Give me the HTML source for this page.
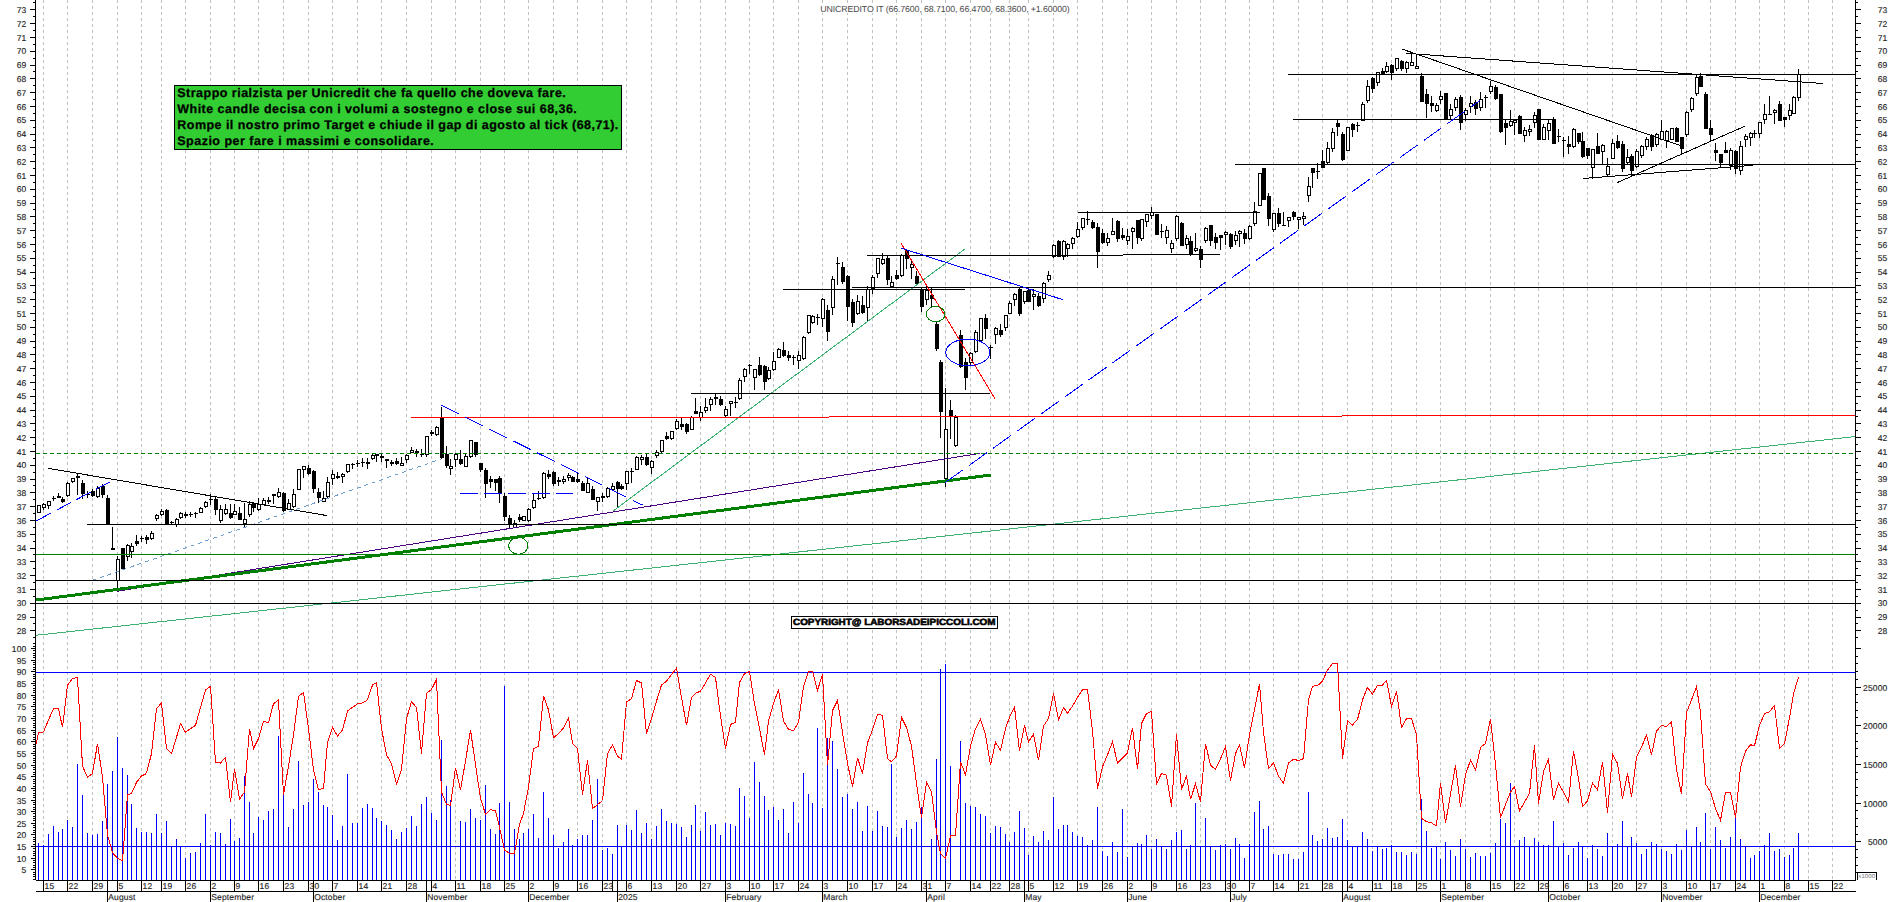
<!DOCTYPE html><html><head><meta charset="utf-8"><title>UNICREDITO IT</title><style>html,body{margin:0;padding:0;background:#fff;overflow:hidden}svg{display:block}</style></head><body><svg width="1890" height="902" viewBox="0 0 1890 902" shape-rendering="crispEdges" text-rendering="geometricPrecision">
<rect width="1890" height="902" fill="#fff"/>
<path d="M43.5 0V880 M67.5 0V880 M92.5 0V880 M117.5 0V880 M141.5 0V880 M161.5 0V880 M185.5 0V880 M210.5 0V880 M234.5 0V880 M258.5 0V880 M283.5 0V880 M308.5 0V880 M332.5 0V880 M357.5 0V880 M381.5 0V880 M406.5 0V880 M431.5 0V880 M455.5 0V880 M480.5 0V880 M504.5 0V880 M528.5 0V880 M553.5 0V880 M577.5 0V880 M602.5 0V880 M626.5 0V880 M651.5 0V880 M676.5 0V880 M700.5 0V880 M725.5 0V880 M749.5 0V880 M773.5 0V880 M798.5 0V880 M822.5 0V880 M847.5 0V880 M872.5 0V880 M896.5 0V880 M921.5 0V880 M945.5 0V880 M970.5 0V880 M990.5 0V880 M1009.5 0V880 M1028.5 0V880 M1053.5 0V880 M1077.5 0V880 M1102.5 0V880 M1127.5 0V880 M1151.5 0V880 M1176.5 0V880 M1200.5 0V880 M1225.5 0V880 M1249.5 0V880 M1273.5 0V880 M1298.5 0V880 M1322.5 0V880 M1347.5 0V880 M1372.5 0V880 M1391.5 0V880 M1416.5 0V880 M1440.5 0V880 M1465.5 0V880 M1490.5 0V880 M1514.5 0V880 M1538.5 0V880 M1563.5 0V880 M1587.5 0V880 M1612.5 0V880 M1636.5 0V880 M1661.5 0V880 M1686.5 0V880 M1710.5 0V880 M1735.5 0V880 M1759.5 0V880 M1784.5 0V880 M1808.5 0V880 M1832.5 0V880" stroke="#c0c0c0" stroke-width="1" stroke-dasharray="3 3" fill="none"/>
<path d="M38.5 843.4V880.5 M43.5 845.1V880.5 M48.5 834.2V880.5 M53.5 825.9V880.5 M58.5 832.2V880.5 M62.5 829.2V880.5 M67.5 820.2V880.5 M72.5 827.2V880.5 M77.5 764.3V880.5 M82.5 795.2V880.5 M87.5 832.9V880.5 M92.5 835.1V880.5 M97.5 834.2V880.5 M102.5 821.4V880.5 M107.5 784.0V880.5 M112.5 771.0V880.5 M117.5 737.3V880.5 M122.5 768.0V880.5 M127.5 775.3V880.5 M131.5 804.2V880.5 M136.5 828.4V880.5 M141.5 832.2V880.5 M146.5 832.2V880.5 M151.5 833.4V880.5 M156.5 814.2V880.5 M161.5 832.9V880.5 M166.5 821.2V880.5 M171.5 845.9V880.5 M176.5 839.1V880.5 M180.5 846.4V880.5 M185.5 858.4V880.5 M190.5 853.4V880.5 M195.5 852.1V880.5 M200.5 843.4V880.5 M205.5 814.2V880.5 M210.5 845.1V880.5 M215.5 832.2V880.5 M220.5 832.9V880.5 M225.5 844.1V880.5 M230.5 819.2V880.5 M234.5 841.4V880.5 M239.5 837.9V880.5 M244.5 776.0V880.5 M249.5 802.2V880.5 M253.5 833.4V880.5 M258.5 817.2V880.5 M263.5 820.2V880.5 M268.5 811.2V880.5 M273.5 809.2V880.5 M278.5 736.1V880.5 M283.5 794.7V880.5 M288.5 827.2V880.5 M293.5 809.2V880.5 M298.5 761.0V880.5 M303.5 805.2V880.5 M308.5 802.2V880.5 M313.5 779.3V880.5 M318.5 791.5V880.5 M323.5 805.2V880.5 M327.5 807.2V880.5 M332.5 815.2V880.5 M337.5 840.1V880.5 M342.5 826.2V880.5 M347.5 774.3V880.5 M352.5 823.4V880.5 M357.5 823.2V880.5 M362.5 808.2V880.5 M367.5 804.2V880.5 M372.5 808.2V880.5 M376.5 818.2V880.5 M381.5 821.2V880.5 M386.5 824.7V880.5 M391.5 830.2V880.5 M396.5 839.1V880.5 M401.5 832.2V880.5 M406.5 828.2V880.5 M411.5 816.2V880.5 M416.5 826.2V880.5 M421.5 804.2V880.5 M426.5 797.2V880.5 M431.5 812.9V880.5 M436.5 820.2V880.5 M441.5 740.3V880.5 M446.5 786.2V880.5 M450.5 800.2V880.5 M460.5 821.2V880.5 M465.5 822.2V880.5 M470.5 809.2V880.5 M475.5 818.2V880.5 M480.5 820.2V880.5 M485.5 785.2V880.5 M490.5 829.2V880.5 M495.5 834.2V880.5 M499.5 803.2V880.5 M504.5 685.7V880.5 M509.5 802.2V880.5 M514.5 829.2V880.5 M519.5 839.1V880.5 M523.5 832.9V880.5 M528.5 829.2V880.5 M533.5 814.2V880.5 M538.5 838.1V880.5 M543.5 792.2V880.5 M548.5 818.2V880.5 M553.5 835.1V880.5 M558.5 848.4V880.5 M563.5 842.1V880.5 M568.5 829.2V880.5 M572.5 845.1V880.5 M577.5 839.1V880.5 M582.5 835.4V880.5 M587.5 835.4V880.5 M592.5 820.2V880.5 M597.5 779.3V880.5 M602.5 850.1V880.5 M607.5 848.4V880.5 M612.5 854.1V880.5 M617.5 825.2V880.5 M621.5 846.4V880.5 M626.5 824.7V880.5 M631.5 830.2V880.5 M636.5 810.2V880.5 M641.5 833.2V880.5 M646.5 823.2V880.5 M651.5 839.1V880.5 M656.5 826.2V880.5 M661.5 809.2V880.5 M666.5 821.2V880.5 M671.5 823.2V880.5 M676.5 824.2V880.5 M681.5 827.2V880.5 M686.5 837.1V880.5 M691.5 825.2V880.5 M695.5 805.2V880.5 M700.5 831.2V880.5 M705.5 812.2V880.5 M710.5 825.2V880.5 M715.5 824.2V880.5 M720.5 835.1V880.5 M725.5 823.2V880.5 M730.5 824.2V880.5 M735.5 826.2V880.5 M739.5 788.2V880.5 M744.5 796.2V880.5 M749.5 818.2V880.5 M754.5 762.3V880.5 M759.5 782.3V880.5 M764.5 796.2V880.5 M768.5 810.2V880.5 M773.5 807.2V880.5 M778.5 820.2V880.5 M783.5 809.2V880.5 M788.5 833.2V880.5 M793.5 802.2V880.5 M798.5 823.2V880.5 M803.5 773.3V880.5 M808.5 794.2V880.5 M812.5 803.2V880.5 M817.5 728.1V880.5 M822.5 808.2V880.5 M827.5 737.8V880.5 M832.5 741.3V880.5 M837.5 769.3V880.5 M842.5 797.2V880.5 M847.5 794.2V880.5 M852.5 809.2V880.5 M857.5 802.2V880.5 M862.5 831.2V880.5 M867.5 806.2V880.5 M872.5 831.2V880.5 M877.5 811.2V880.5 M882.5 826.2V880.5 M887.5 827.2V880.5 M891.5 764.3V880.5 M896.5 837.1V880.5 M901.5 828.2V880.5 M906.5 820.2V880.5 M911.5 829.2V880.5 M916.5 822.2V880.5 M921.5 807.2V880.5 M931.5 839.1V880.5 M936.5 759.3V880.5 M940.5 669.2V880.5 M945.5 663.7V880.5 M950.5 766.3V880.5 M960.5 741.3V880.5 M965.5 803.2V880.5 M970.5 806.2V880.5 M975.5 807.2V880.5 M980.5 814.2V880.5 M985.5 816.2V880.5 M990.5 833.2V880.5 M995.5 826.2V880.5 M1000.5 827.2V880.5 M1005.5 834.2V880.5 M1009.5 842.1V880.5 M1014.5 832.2V880.5 M1019.5 811.2V880.5 M1024.5 828.2V880.5 M1028.5 855.1V880.5 M1033.5 836.1V880.5 M1038.5 842.1V880.5 M1043.5 831.2V880.5 M1048.5 840.1V880.5 M1053.5 797.2V880.5 M1058.5 829.2V880.5 M1063.5 825.2V880.5 M1067.5 825.2V880.5 M1072.5 832.2V880.5 M1077.5 836.1V880.5 M1082.5 837.1V880.5 M1087.5 845.1V880.5 M1092.5 840.1V880.5 M1097.5 807.2V880.5 M1102.5 851.1V880.5 M1107.5 856.1V880.5 M1112.5 842.1V880.5 M1117.5 852.1V880.5 M1122.5 809.2V880.5 M1127.5 857.1V880.5 M1132.5 846.4V880.5 M1137.5 843.1V880.5 M1141.5 844.1V880.5 M1146.5 835.1V880.5 M1151.5 849.1V880.5 M1156.5 839.1V880.5 M1161.5 846.4V880.5 M1166.5 849.1V880.5 M1171.5 840.1V880.5 M1176.5 832.2V880.5 M1181.5 830.2V880.5 M1186.5 849.1V880.5 M1190.5 845.1V880.5 M1195.5 803.2V880.5 M1200.5 846.4V880.5 M1205.5 818.2V880.5 M1210.5 846.4V880.5 M1215.5 850.1V880.5 M1220.5 845.1V880.5 M1225.5 844.1V880.5 M1230.5 849.1V880.5 M1235.5 838.1V880.5 M1239.5 844.1V880.5 M1244.5 858.1V880.5 M1249.5 844.1V880.5 M1254.5 812.2V880.5 M1259.5 801.2V880.5 M1263.5 829.2V880.5 M1268.5 826.2V880.5 M1273.5 854.1V880.5 M1278.5 855.1V880.5 M1283.5 854.1V880.5 M1288.5 854.1V880.5 M1293.5 859.1V880.5 M1298.5 859.1V880.5 M1303.5 852.1V880.5 M1308.5 792.2V880.5 M1312.5 835.1V880.5 M1317.5 841.1V880.5 M1322.5 839.1V880.5 M1327.5 828.2V880.5 M1332.5 838.1V880.5 M1337.5 837.1V880.5 M1342.5 819.2V880.5 M1347.5 840.1V880.5 M1352.5 846.4V880.5 M1357.5 846.4V880.5 M1362.5 832.2V880.5 M1367.5 839.1V880.5 M1372.5 851.1V880.5 M1377.5 846.4V880.5 M1382.5 849.1V880.5 M1386.5 848.1V880.5 M1391.5 845.1V880.5 M1396.5 852.1V880.5 M1401.5 852.1V880.5 M1406.5 855.1V880.5 M1411.5 852.1V880.5 M1416.5 854.1V880.5 M1421.5 799.2V880.5 M1426.5 831.2V880.5 M1431.5 848.1V880.5 M1436.5 847.1V880.5 M1440.5 859.1V880.5 M1445.5 842.1V880.5 M1450.5 850.1V880.5 M1455.5 856.1V880.5 M1460.5 839.1V880.5 M1465.5 849.1V880.5 M1470.5 857.1V880.5 M1475.5 853.1V880.5 M1480.5 856.1V880.5 M1485.5 856.1V880.5 M1490.5 853.1V880.5 M1495.5 843.1V880.5 M1500.5 819.2V880.5 M1505.5 823.2V880.5 M1510.5 783.0V880.5 M1514.5 846.4V880.5 M1519.5 840.1V880.5 M1524.5 837.1V880.5 M1529.5 846.4V880.5 M1534.5 838.1V880.5 M1538.5 842.1V880.5 M1543.5 845.1V880.5 M1548.5 845.1V880.5 M1553.5 821.2V880.5 M1558.5 846.4V880.5 M1563.5 843.1V880.5 M1568.5 855.1V880.5 M1573.5 848.1V880.5 M1578.5 842.1V880.5 M1582.5 846.4V880.5 M1587.5 858.1V880.5 M1592.5 845.1V880.5 M1597.5 849.1V880.5 M1602.5 856.1V880.5 M1607.5 833.2V880.5 M1612.5 846.4V880.5 M1617.5 844.1V880.5 M1622.5 821.2V880.5 M1627.5 846.4V880.5 M1631.5 837.1V880.5 M1636.5 843.1V880.5 M1641.5 854.1V880.5 M1646.5 849.1V880.5 M1651.5 842.1V880.5 M1656.5 844.1V880.5 M1661.5 849.1V880.5 M1666.5 851.1V880.5 M1671.5 854.1V880.5 M1676.5 844.1V880.5 M1681.5 850.1V880.5 M1686.5 830.2V880.5 M1691.5 846.4V880.5 M1696.5 827.2V880.5 M1700.5 842.1V880.5 M1705.5 813.2V880.5 M1710.5 849.1V880.5 M1715.5 827.2V880.5 M1720.5 840.1V880.5 M1725.5 848.1V880.5 M1730.5 837.1V880.5 M1735.5 817.2V880.5 M1740.5 839.1V880.5 M1745.5 846.4V880.5 M1750.5 858.1V880.5 M1754.5 855.1V880.5 M1759.5 851.1V880.5 M1764.5 845.1V880.5 M1769.5 833.2V880.5 M1774.5 851.1V880.5 M1779.5 849.1V880.5 M1784.5 857.1V880.5 M1789.5 855.1V880.5 M1793.5 847.9V880.5 M1798.5 833.4V880.5" stroke="#0000ff" stroke-width="1" fill="none"/>
<path d="M35.5 672.5H1855.5M35.5 846.5H1855.5" stroke="#0000ff" stroke-width="1" fill="none"/>
<polyline points="36.2,743.6 38.5,732.9 43.5,731.9 48.5,719.9 53.5,708.7 58.5,708.7 62.5,727.4 67.5,685.0 72.5,678.7 77.5,677.5 82.5,766.0 87.5,777.3 92.5,773.5 97.5,743.6 102.5,777.3 107.5,834.7 112.5,852.6 117.5,858.4 122.5,860.8 127.5,794.7 131.5,793.5 136.5,782.3 141.5,776.0 146.5,773.5 151.5,753.6 156.5,708.7 161.5,702.9 166.5,748.6 171.5,753.6 176.5,737.3 180.5,723.6 185.5,732.4 190.5,728.6 195.5,725.4 200.5,707.4 205.5,689.9 210.5,686.2 215.5,762.3 220.5,763.0 225.5,757.3 230.5,802.2 234.5,769.0 239.5,799.2 244.5,792.2 249.5,728.6 253.5,748.6 258.5,738.6 263.5,721.1 268.5,722.9 273.5,703.7 278.5,699.9 283.5,794.7 288.5,766.0 293.5,734.9 298.5,696.2 303.5,692.4 308.5,728.6 313.5,769.8 318.5,789.7 323.5,788.5 327.5,742.3 332.5,727.4 337.5,736.1 342.5,729.9 347.5,711.1 352.5,707.4 357.5,703.7 362.5,702.9 367.5,699.9 372.5,685.0 376.5,682.5 381.5,728.6 386.5,754.8 391.5,763.5 396.5,784.0 401.5,769.8 406.5,718.6 411.5,701.7 416.5,707.4 421.5,753.6 426.5,693.2 431.5,689.4 436.5,679.5 441.5,792.2 446.5,804.2 450.5,805.5 455.5,767.8 460.5,789.7 465.5,761.0 470.5,729.9 475.5,764.8 480.5,798.5 485.5,814.2 490.5,809.7 495.5,810.9 499.5,827.2 504.5,850.1 509.5,853.4 514.5,853.4 519.5,824.7 523.5,813.4 528.5,787.2 533.5,748.6 538.5,746.1 543.5,695.7 548.5,709.9 553.5,737.8 558.5,733.6 563.5,727.9 568.5,718.1 572.5,743.6 577.5,748.6 582.5,794.7 587.5,760.3 592.5,808.5 597.5,804.7 602.5,800.5 607.5,753.6 612.5,744.8 617.5,756.1 621.5,759.3 626.5,701.9 631.5,698.7 636.5,680.5 641.5,683.0 646.5,733.6 651.5,718.6 656.5,701.2 661.5,685.0 666.5,681.2 671.5,674.5 676.5,668.2 681.5,697.4 686.5,725.4 691.5,697.4 695.5,693.2 700.5,691.2 705.5,683.0 710.5,674.2 715.5,677.5 720.5,716.1 725.5,748.6 730.5,724.4 735.5,722.4 739.5,682.5 744.5,673.7 749.5,671.2 754.5,703.7 759.5,728.6 764.5,754.8 768.5,721.1 773.5,703.7 778.5,689.4 783.5,721.1 788.5,729.4 793.5,730.6 798.5,722.4 803.5,686.2 808.5,671.7 812.5,671.2 817.5,690.4 822.5,674.5 827.5,765.3 832.5,710.6 837.5,700.4 842.5,732.4 847.5,763.5 852.5,786.5 857.5,757.8 862.5,773.5 867.5,742.8 872.5,729.9 877.5,714.4 882.5,715.4 887.5,758.6 891.5,761.8 896.5,756.1 901.5,717.4 906.5,727.4 911.5,746.1 916.5,783.5 921.5,817.7 926.5,782.3 931.5,792.2 936.5,832.2 940.5,853.4 945.5,858.4 950.5,835.9 955.5,835.9 960.5,761.8 965.5,774.8 970.5,746.1 975.5,728.6 980.5,719.4 985.5,734.9 990.5,765.3 995.5,742.3 1000.5,750.3 1005.5,728.6 1009.5,717.4 1014.5,706.9 1019.5,751.1 1024.5,725.4 1028.5,741.8 1033.5,734.4 1038.5,760.3 1043.5,726.1 1048.5,718.6 1053.5,693.2 1058.5,719.9 1063.5,707.4 1067.5,713.1 1072.5,706.2 1077.5,697.4 1082.5,689.9 1087.5,689.4 1092.5,731.1 1097.5,788.5 1102.5,766.8 1107.5,754.8 1112.5,741.8 1117.5,763.0 1122.5,758.1 1127.5,752.8 1132.5,727.9 1137.5,769.3 1141.5,723.6 1146.5,713.6 1151.5,711.1 1156.5,784.0 1161.5,773.5 1166.5,775.3 1171.5,806.5 1176.5,734.4 1181.5,789.7 1186.5,776.0 1190.5,799.2 1195.5,784.0 1200.5,801.7 1205.5,743.6 1210.5,765.3 1215.5,769.3 1220.5,758.6 1225.5,746.8 1230.5,780.5 1235.5,753.6 1239.5,744.8 1244.5,767.8 1249.5,734.4 1254.5,709.9 1259.5,683.7 1263.5,732.4 1268.5,768.5 1273.5,763.0 1278.5,776.0 1283.5,783.5 1288.5,763.0 1293.5,759.3 1298.5,760.5 1303.5,758.6 1308.5,699.9 1312.5,686.2 1317.5,685.7 1322.5,681.2 1327.5,670.0 1332.5,663.7 1337.5,663.7 1342.5,758.6 1347.5,721.1 1352.5,724.9 1357.5,719.4 1362.5,699.9 1367.5,687.4 1372.5,694.2 1377.5,685.0 1382.5,685.0 1386.5,680.5 1391.5,706.2 1396.5,691.2 1401.5,727.4 1406.5,718.6 1411.5,718.6 1416.5,734.9 1421.5,818.4 1426.5,821.7 1431.5,822.9 1436.5,825.9 1440.5,782.8 1445.5,823.4 1450.5,794.2 1455.5,765.3 1460.5,806.7 1465.5,774.8 1470.5,760.3 1475.5,770.3 1480.5,747.3 1485.5,743.6 1490.5,719.1 1495.5,764.8 1500.5,817.7 1505.5,804.7 1510.5,792.2 1514.5,786.5 1519.5,810.9 1524.5,802.2 1529.5,793.5 1534.5,745.3 1538.5,803.5 1543.5,771.5 1548.5,759.3 1553.5,799.7 1558.5,783.0 1563.5,792.2 1568.5,802.2 1573.5,751.1 1578.5,778.5 1582.5,806.7 1587.5,801.0 1592.5,783.0 1597.5,789.7 1602.5,761.8 1607.5,812.7 1612.5,754.3 1617.5,763.5 1622.5,799.0 1627.5,773.5 1631.5,797.2 1636.5,757.3 1641.5,747.3 1646.5,734.9 1651.5,754.8 1656.5,731.1 1661.5,725.4 1666.5,726.6 1671.5,721.9 1676.5,769.8 1681.5,794.0 1686.5,712.4 1691.5,699.9 1696.5,686.9 1700.5,712.4 1705.5,784.0 1710.5,791.7 1715.5,808.5 1720.5,820.4 1725.5,792.2 1730.5,792.2 1735.5,817.7 1740.5,767.3 1745.5,751.1 1750.5,744.8 1754.5,745.6 1759.5,725.4 1764.5,713.6 1769.5,711.9 1774.5,705.4 1779.5,748.6 1784.5,743.6 1789.5,717.9 1793.5,693.7 1798.5,677.2" stroke="#ff0000" stroke-width="1" fill="none"/>
<path d="M43.5 503V504 M43.5 507V510 M48.5 505V509 M53.5 496V501 M58.5 493V498 M62.5 497V503 M67.5 482V483 M67.5 495V497 M72.5 481V483 M77.5 474V495 M82.5 480V499 M87.5 491V498 M92.5 489V497 M97.5 486V488 M97.5 496V498 M102.5 484V498 M107.5 495V524 M112.5 527V550 M117.5 556V559 M117.5 580V592 M122.5 548V569 M127.5 544V545 M127.5 556V561 M131.5 543V546 M131.5 551V558 M136.5 535V546 M141.5 536V542 M146.5 535V544 M151.5 531V533 M151.5 538V540 M156.5 514V515 M156.5 518V521 M161.5 509V511 M161.5 514V516 M166.5 509V525 M171.5 521V525 M176.5 518V519 M176.5 524V527 M180.5 512V513 M180.5 517V519 M185.5 512V518 M190.5 512V517 M195.5 512V518 M200.5 507V508 M205.5 501V502 M205.5 506V508 M210.5 494V505 M215.5 497V515 M220.5 505V509 M220.5 520V523 M225.5 504V509 M225.5 513V515 M230.5 504V519 M234.5 504V511 M239.5 507V520 M244.5 503V519 M244.5 523V528 M249.5 501V504 M249.5 514V517 M253.5 502V512 M258.5 498V504 M258.5 509V511 M263.5 498V500 M268.5 497V504 M273.5 494V504 M278.5 488V492 M278.5 496V498 M283.5 492V512 M288.5 499V503 M293.5 489V494 M293.5 506V508 M303.5 469V478 M308.5 465V475 M313.5 470V493 M318.5 488V503 M323.5 491V498 M327.5 477V482 M327.5 496V498 M332.5 470V474 M332.5 478V485 M337.5 472V479 M342.5 473V474 M342.5 476V483 M347.5 471V473 M352.5 463V469 M357.5 460V467 M362.5 458V467 M367.5 458V469 M372.5 454V455 M372.5 458V460 M376.5 454V462 M381.5 454V462 M386.5 459V468 M391.5 460V466 M396.5 458V465 M401.5 457V463 M406.5 454V455 M406.5 459V463 M411.5 447V450 M416.5 449V457 M421.5 449V457 M426.5 454V457 M431.5 430V436 M436.5 426V427 M436.5 434V436 M441.5 407V459 M446.5 446V468 M450.5 459V466 M450.5 468V475 M455.5 453V454 M455.5 459V467 M460.5 450V465 M465.5 453V456 M470.5 456V458 M475.5 442V457 M480.5 463V472 M485.5 468V498 M490.5 476V488 M495.5 479V491 M499.5 476V503 M504.5 493V521 M509.5 515V528 M514.5 520V523 M519.5 514V522 M528.5 508V509 M528.5 520V522 M533.5 494V500 M533.5 507V509 M538.5 491V500 M543.5 472V473 M543.5 497V499 M548.5 470V479 M553.5 471V486 M558.5 477V486 M563.5 476V479 M563.5 481V484 M568.5 473V475 M568.5 477V481 M572.5 476V482 M577.5 473V483 M582.5 481V491 M587.5 478V483 M592.5 486V500 M597.5 501V511 M602.5 493V502 M607.5 487V488 M607.5 496V498 M612.5 483V486 M612.5 489V491 M617.5 481V507 M621.5 484V490 M626.5 483V490 M631.5 468V483 M636.5 456V457 M641.5 455V457 M641.5 459V465 M646.5 454V466 M651.5 460V461 M651.5 467V474 M656.5 450V452 M656.5 455V458 M661.5 451V454 M666.5 432V440 M671.5 438V440 M676.5 419V421 M676.5 428V430 M681.5 418V430 M686.5 423V434 M691.5 416V417 M695.5 398V414 M700.5 406V412 M700.5 417V421 M705.5 398V407 M705.5 410V413 M710.5 397V399 M710.5 404V411 M715.5 394V405 M720.5 396V406 M725.5 406V409 M725.5 415V418 M730.5 403V416 M735.5 397V408 M739.5 378V380 M739.5 398V400 M744.5 368V369 M744.5 376V382 M749.5 364V374 M754.5 377V390 M759.5 357V376 M764.5 365V390 M768.5 367V370 M768.5 378V380 M773.5 352V361 M773.5 369V371 M778.5 348V349 M783.5 342V357 M788.5 351V361 M793.5 355V365 M798.5 351V355 M798.5 360V369 M803.5 336V337 M803.5 358V360 M808.5 332V334 M812.5 315V316 M812.5 322V324 M817.5 314V325 M822.5 298V299 M822.5 318V327 M827.5 305V341 M832.5 276V279 M832.5 307V315 M837.5 257V285 M842.5 262V284 M847.5 275V321 M852.5 299V327 M857.5 295V301 M857.5 313V315 M862.5 296V314 M867.5 286V289 M867.5 307V321 M872.5 275V277 M872.5 288V294 M877.5 273V278 M882.5 253V259 M882.5 263V265 M887.5 256V285 M891.5 276V282 M896.5 270V280 M901.5 254V255 M901.5 275V277 M906.5 250V269 M911.5 259V264 M911.5 267V279 M916.5 271V286 M921.5 287V312 M926.5 286V290 M926.5 299V305 M931.5 288V308 M936.5 322V351 M940.5 360V438 M945.5 388V429 M945.5 478V487 M950.5 400V439 M955.5 415V417 M955.5 445V447 M960.5 330V368 M965.5 358V390 M970.5 352V353 M970.5 362V365 M975.5 330V332 M975.5 351V353 M980.5 340V342 M985.5 314V339 M990.5 345V359 M995.5 327V328 M995.5 334V344 M1000.5 324V337 M1005.5 327V331 M1009.5 301V303 M1014.5 293V294 M1014.5 299V306 M1019.5 287V316 M1024.5 301V304 M1028.5 289V302 M1033.5 289V294 M1033.5 296V310 M1038.5 293V307 M1043.5 282V283 M1043.5 298V303 M1048.5 271V275 M1048.5 279V282 M1053.5 244V245 M1053.5 256V258 M1058.5 240V257 M1063.5 240V241 M1063.5 256V260 M1067.5 243V244 M1067.5 248V257 M1072.5 237V238 M1072.5 243V249 M1077.5 222V229 M1077.5 236V238 M1082.5 227V230 M1087.5 211V225 M1092.5 220V229 M1097.5 223V268 M1102.5 229V244 M1107.5 233V238 M1107.5 242V246 M1112.5 218V231 M1117.5 220V242 M1122.5 228V240 M1127.5 229V236 M1127.5 240V245 M1132.5 227V228 M1132.5 231V249 M1137.5 220V244 M1141.5 238V241 M1146.5 221V227 M1151.5 207V212 M1151.5 215V219 M1156.5 214V235 M1161.5 224V238 M1166.5 226V230 M1166.5 237V244 M1171.5 240V243 M1171.5 248V253 M1176.5 215V216 M1176.5 238V241 M1181.5 222V246 M1186.5 235V238 M1186.5 244V249 M1190.5 236V256 M1195.5 233V248 M1195.5 250V252 M1200.5 246V268 M1205.5 227V228 M1205.5 240V243 M1210.5 225V246 M1215.5 233V249 M1220.5 235V250 M1225.5 231V232 M1225.5 234V245 M1230.5 233V249 M1235.5 231V235 M1235.5 240V245 M1239.5 230V231 M1239.5 233V247 M1244.5 229V244 M1249.5 225V226 M1249.5 238V240 M1254.5 202V211 M1254.5 223V226 M1263.5 168V200 M1268.5 193V226 M1273.5 229V232 M1278.5 208V227 M1283.5 212V226 M1288.5 220V227 M1293.5 211V220 M1298.5 219V229 M1303.5 212V216 M1303.5 218V225 M1308.5 177V186 M1308.5 195V202 M1312.5 168V188 M1317.5 163V179 M1322.5 150V168 M1327.5 142V148 M1327.5 162V164 M1332.5 128V132 M1332.5 148V152 M1337.5 120V136 M1342.5 132V161 M1352.5 123V137 M1357.5 122V132 M1362.5 102V104 M1367.5 80V86 M1367.5 100V103 M1372.5 77V93 M1377.5 82V86 M1382.5 68V75 M1386.5 62V66 M1386.5 71V73 M1391.5 64V80 M1396.5 68V71 M1401.5 60V71 M1406.5 61V62 M1406.5 68V73 M1411.5 53V62 M1416.5 54V66 M1421.5 73V102 M1426.5 89V118 M1431.5 96V112 M1436.5 103V105 M1436.5 110V112 M1440.5 91V96 M1440.5 99V104 M1445.5 93V120 M1450.5 104V109 M1450.5 115V119 M1455.5 97V99 M1455.5 107V111 M1460.5 95V130 M1465.5 108V110 M1465.5 114V121 M1470.5 96V103 M1470.5 106V113 M1475.5 100V115 M1480.5 92V99 M1480.5 107V111 M1485.5 95V108 M1490.5 81V86 M1490.5 91V94 M1495.5 85V100 M1500.5 94V133 M1505.5 120V145 M1510.5 110V121 M1510.5 125V127 M1514.5 122V135 M1519.5 115V134 M1524.5 127V130 M1524.5 135V142 M1529.5 125V129 M1529.5 131V136 M1534.5 112V115 M1534.5 122V128 M1538.5 109V140 M1543.5 124V127 M1548.5 120V123 M1548.5 130V140 M1553.5 117V144 M1558.5 129V142 M1563.5 137V157 M1568.5 136V154 M1573.5 128V129 M1573.5 146V148 M1578.5 133V144 M1582.5 132V158 M1587.5 148V159 M1592.5 167V179 M1597.5 133V154 M1602.5 144V145 M1602.5 151V165 M1607.5 158V166 M1607.5 174V177 M1612.5 139V143 M1617.5 135V149 M1622.5 141V172 M1627.5 149V157 M1627.5 162V164 M1631.5 154V176 M1636.5 149V151 M1636.5 166V168 M1641.5 145V146 M1641.5 155V158 M1646.5 137V139 M1646.5 146V150 M1651.5 134V151 M1656.5 133V134 M1656.5 144V147 M1661.5 120V131 M1666.5 130V131 M1666.5 140V148 M1676.5 127V142 M1681.5 137V155 M1686.5 111V112 M1686.5 134V137 M1691.5 97V98 M1691.5 109V112 M1696.5 75V77 M1696.5 93V96 M1700.5 73V87 M1705.5 92V129 M1710.5 120V141 M1715.5 143V161 M1720.5 154V168 M1725.5 142V153 M1730.5 148V150 M1730.5 165V170 M1735.5 150V174 M1740.5 141V146 M1740.5 170V175 M1745.5 134V136 M1745.5 139V147 M1750.5 132V133 M1750.5 137V146 M1754.5 130V138 M1759.5 133V138 M1764.5 104V114 M1764.5 119V124 M1769.5 96V115 M1774.5 109V110 M1774.5 112V124 M1779.5 101V121 M1784.5 117V127 M1789.5 104V110 M1789.5 115V120 M1793.5 96V97 M1798.5 69V74 M1798.5 97V101" stroke="#000" stroke-width="1" fill="none"/>
<path d="M52 498.5H56 M86 494.5H90 M140 538.5H144 M170 522.5H174 M189 514.5H193 M194 513.5H198 M209 499.5H213 M351 464.5H355 M356 463.5H360 M361 462.5H365 M420 454.5H424 M537 498.5H541 M630 471.5H634 M734 402.5H738 M748 365.5H752 M792 357.5H796 M816 317.5H820 M836 263.5H840 M989 347.5H993 M1086 219.5H1090 M1160 231.5H1164 M1282 225.5H1286 M1316 171.5H1320 M1356 125.5H1360 M1484 97.5H1488 M1557 136.5H1561 M1562 140.5H1566 M1753 133.5H1757 M1768 114.5H1772" stroke="#000" stroke-width="1" fill="none"/>
<path d="M57 496H61V498H57Z M61 499H65V502H61Z M76 476H80V478H76Z M81 483H85V494H81Z M91 491H95V496H91Z M101 486H105V495H101Z M106 498H110V524H106Z M111 548H115V550H111Z M121 548H125V569H121Z M135 541H139V544H135Z M145 537H149V540H145Z M165 510H169V524H165Z M184 514H188V516H184Z M214 499H218V510H214Z M229 513H233V518H229Z M238 513H242V520H238Z M252 503H256V508H252Z M267 500H271V502H267Z M272 494H276V496H272Z M282 493H286V511H282Z M307 468H311V474H307Z M312 471H316V489H312Z M317 492H321V498H317Z M336 476H340V478H336Z M366 462H370V464H366Z M375 454H379V456H375Z M380 456H384V458H380Z M385 459H389V461H385Z M390 462H394V464H390Z M395 461H399V464H395Z M415 451H419V453H415Z M430 432H434V434H430Z M440 418H444V458H440Z M445 454H449V466H445Z M459 459H463V464H459Z M474 442H478V455H474Z M479 463H483V470H479Z M484 470H488V484H484Z M489 479H493V482H489Z M494 479H498V483H494Z M498 478H502V493H498Z M503 496H507V517H503Z M508 518H512V524H508Z M518 517H522V520H518Z M547 474H551V477H547Z M552 472H556V484H552Z M557 480H561V482H557Z M571 477H575V482H571Z M576 479H580V482H576Z M581 483H585V491H581Z M591 489H595V500H591Z M601 496H605V498H601Z M616 482H620V489H616Z M620 486H624V489H620Z M645 457H649V465H645Z M665 436H669V439H665Z M680 424H684V427H680Z M685 424H689V432H685Z M694 411H698V414H694Z M714 397H718V399H714Z M719 399H723V405H719Z M758 365H762V375H758Z M763 366H767V382H763Z M782 350H786V356H782Z M787 355H791V358H787Z M826 310H830V332H826Z M841 267H845V282H841Z M846 276H850V307H846Z M851 302H855V323H851Z M861 305H865V313H861Z M886 258H890V280H886Z M895 275H899V279H895Z M905 251H909V259H905Z M915 276H919V284H915Z M920 289H924V307H920Z M930 295H934V299H930Z M935 324H939V349H935Z M939 362H943V412H939Z M949 410H953V417H949Z M959 335H963V367H959Z M964 362H968V378H964Z M984 318H988V329H984Z M999 330H1003V335H999Z M1018 289H1022V314H1018Z M1027 290H1031V302H1027Z M1037 296H1041V306H1037Z M1057 241H1061V257H1057Z M1091 222H1095V228H1091Z M1096 227H1100V252H1096Z M1101 233H1105V243H1101Z M1116 221H1120V239H1116Z M1121 235H1125V238H1121Z M1136 220H1140V238H1136Z M1155 214H1159V235H1155Z M1180 223H1184V246H1180Z M1189 241H1193V255H1189Z M1199 249H1203V260H1199Z M1209 225H1213V241H1209Z M1214 237H1218V243H1214Z M1219 235H1223V238H1219Z M1229 234H1233V247H1229Z M1243 233H1247V239H1243Z M1262 168H1266V200H1262Z M1267 196H1271V219H1267Z M1277 213H1281V224H1277Z M1292 212H1296V217H1292Z M1311 168H1315V173H1311Z M1321 161H1325V168H1321Z M1336 123H1340V127H1336Z M1341 134H1345V160H1341Z M1351 124H1355V130H1351Z M1371 78H1375V89H1371Z M1381 71H1385V75H1381Z M1390 65H1394V73H1390Z M1400 61H1404V69H1400Z M1420 76H1424V102H1420Z M1425 94H1429V104H1425Z M1430 103H1434V106H1430Z M1444 93H1448V119H1444Z M1459 97H1463V123H1459Z M1474 102H1478V109H1474Z M1494 87H1498V99H1494Z M1499 94H1503V132H1499Z M1504 123H1508V128H1504Z M1518 116H1522V134H1518Z M1537 109H1541V140H1537Z M1552 119H1556V144H1552Z M1567 144H1571V147H1567Z M1577 133H1581V142H1577Z M1581 141H1585V157H1581Z M1586 148H1590V156H1586Z M1596 146H1600V154H1596Z M1616 141H1620V148H1616Z M1621 144H1625V169H1621Z M1630 156H1634V171H1630Z M1650 135H1654V147H1650Z M1675 128H1679V142H1675Z M1680 137H1684V149H1680Z M1699 76H1703V87H1699Z M1704 94H1708V129H1704Z M1709 128H1713V135H1709Z M1714 150H1718V153H1714Z M1719 154H1723V163H1719Z M1724 150H1728V153H1724Z M1734 151H1738V169H1734Z M1778 104H1782V121H1778Z M1783 117H1787V120H1783Z" fill="#000" stroke="none"/>
<path d="M37.5 505.5H40.5V512.5H37.5Z M42.5 504.5H45.5V507.5H42.5Z M47.5 501.5H50.5V505.5H47.5Z M66.5 483.5H69.5V495.5H66.5Z M71.5 478.5H74.5V481.5H71.5Z M96.5 488.5H99.5V496.5H96.5Z M116.5 559.5H119.5V580.5H116.5Z M126.5 545.5H129.5V556.5H126.5Z M130.5 546.5H133.5V551.5H130.5Z M150.5 533.5H153.5V538.5H150.5Z M155.5 515.5H158.5V518.5H155.5Z M160.5 511.5H163.5V514.5H160.5Z M175.5 519.5H178.5V524.5H175.5Z M179.5 513.5H182.5V517.5H179.5Z M199.5 508.5H202.5V512.5H199.5Z M204.5 502.5H207.5V506.5H204.5Z M219.5 509.5H222.5V520.5H219.5Z M224.5 509.5H227.5V513.5H224.5Z M233.5 511.5H236.5V514.5H233.5Z M243.5 519.5H246.5V523.5H243.5Z M248.5 504.5H251.5V514.5H248.5Z M257.5 504.5H260.5V509.5H257.5Z M262.5 500.5H265.5V504.5H262.5Z M277.5 492.5H280.5V496.5H277.5Z M287.5 503.5H290.5V509.5H287.5Z M292.5 494.5H295.5V506.5H292.5Z M297.5 469.5H300.5V489.5H297.5Z M302.5 466.5H305.5V469.5H302.5Z M322.5 498.5H325.5V501.5H322.5Z M326.5 482.5H329.5V496.5H326.5Z M331.5 474.5H334.5V478.5H331.5Z M341.5 474.5H344.5V476.5H341.5Z M346.5 464.5H349.5V471.5H346.5Z M371.5 455.5H374.5V458.5H371.5Z M400.5 463.5H403.5V465.5H400.5Z M405.5 455.5H408.5V459.5H405.5Z M410.5 450.5H413.5V452.5H410.5Z M425.5 436.5H428.5V454.5H425.5Z M435.5 427.5H438.5V434.5H435.5Z M449.5 466.5H452.5V468.5H449.5Z M454.5 454.5H457.5V459.5H454.5Z M464.5 456.5H467.5V466.5H464.5Z M469.5 440.5H472.5V456.5H469.5Z M513.5 523.5H516.5V527.5H513.5Z M522.5 516.5H525.5V520.5H522.5Z M527.5 509.5H530.5V520.5H527.5Z M532.5 500.5H535.5V507.5H532.5Z M542.5 473.5H545.5V497.5H542.5Z M562.5 479.5H565.5V481.5H562.5Z M567.5 475.5H570.5V477.5H567.5Z M586.5 483.5H589.5V492.5H586.5Z M596.5 497.5H599.5V501.5H596.5Z M606.5 488.5H609.5V496.5H606.5Z M611.5 486.5H614.5V489.5H611.5Z M625.5 471.5H628.5V483.5H625.5Z M635.5 457.5H638.5V469.5H635.5Z M640.5 457.5H643.5V459.5H640.5Z M650.5 461.5H653.5V467.5H650.5Z M655.5 452.5H658.5V455.5H655.5Z M660.5 440.5H663.5V451.5H660.5Z M670.5 431.5H673.5V438.5H670.5Z M675.5 421.5H678.5V428.5H675.5Z M690.5 417.5H693.5V429.5H690.5Z M699.5 412.5H702.5V417.5H699.5Z M704.5 407.5H707.5V410.5H704.5Z M709.5 399.5H712.5V404.5H709.5Z M724.5 409.5H727.5V415.5H724.5Z M729.5 401.5H732.5V403.5H729.5Z M738.5 380.5H741.5V398.5H738.5Z M743.5 369.5H746.5V376.5H743.5Z M753.5 369.5H756.5V377.5H753.5Z M767.5 370.5H770.5V378.5H767.5Z M772.5 361.5H775.5V369.5H772.5Z M777.5 349.5H780.5V357.5H777.5Z M797.5 355.5H800.5V360.5H797.5Z M802.5 337.5H805.5V358.5H802.5Z M807.5 315.5H810.5V332.5H807.5Z M811.5 316.5H814.5V322.5H811.5Z M821.5 299.5H824.5V318.5H821.5Z M831.5 279.5H834.5V307.5H831.5Z M856.5 301.5H859.5V313.5H856.5Z M866.5 289.5H869.5V307.5H866.5Z M871.5 277.5H874.5V288.5H871.5Z M876.5 258.5H879.5V273.5H876.5Z M881.5 259.5H884.5V263.5H881.5Z M890.5 282.5H893.5V286.5H890.5Z M900.5 255.5H903.5V275.5H900.5Z M910.5 264.5H913.5V267.5H910.5Z M925.5 290.5H928.5V299.5H925.5Z M944.5 429.5H947.5V478.5H944.5Z M954.5 417.5H957.5V445.5H954.5Z M969.5 353.5H972.5V362.5H969.5Z M974.5 332.5H977.5V351.5H974.5Z M979.5 318.5H982.5V340.5H979.5Z M994.5 328.5H997.5V334.5H994.5Z M1004.5 315.5H1007.5V327.5H1004.5Z M1008.5 303.5H1011.5V313.5H1008.5Z M1013.5 294.5H1016.5V299.5H1013.5Z M1023.5 291.5H1026.5V301.5H1023.5Z M1032.5 294.5H1035.5V296.5H1032.5Z M1042.5 283.5H1045.5V298.5H1042.5Z M1047.5 275.5H1050.5V279.5H1047.5Z M1052.5 245.5H1055.5V256.5H1052.5Z M1062.5 241.5H1065.5V256.5H1062.5Z M1066.5 244.5H1069.5V248.5H1066.5Z M1071.5 238.5H1074.5V243.5H1071.5Z M1076.5 229.5H1079.5V236.5H1076.5Z M1081.5 218.5H1084.5V227.5H1081.5Z M1106.5 238.5H1109.5V242.5H1106.5Z M1111.5 231.5H1114.5V234.5H1111.5Z M1126.5 236.5H1129.5V240.5H1126.5Z M1131.5 228.5H1134.5V231.5H1131.5Z M1140.5 219.5H1143.5V238.5H1140.5Z M1145.5 214.5H1148.5V221.5H1145.5Z M1150.5 212.5H1153.5V215.5H1150.5Z M1165.5 230.5H1168.5V237.5H1165.5Z M1170.5 243.5H1173.5V248.5H1170.5Z M1175.5 216.5H1178.5V238.5H1175.5Z M1185.5 238.5H1188.5V244.5H1185.5Z M1194.5 248.5H1197.5V250.5H1194.5Z M1204.5 228.5H1207.5V240.5H1204.5Z M1224.5 232.5H1227.5V234.5H1224.5Z M1234.5 235.5H1237.5V240.5H1234.5Z M1238.5 231.5H1241.5V233.5H1238.5Z M1248.5 226.5H1251.5V238.5H1248.5Z M1253.5 211.5H1256.5V223.5H1253.5Z M1258.5 173.5H1261.5V205.5H1258.5Z M1272.5 213.5H1275.5V229.5H1272.5Z M1287.5 217.5H1290.5V220.5H1287.5Z M1297.5 217.5H1300.5V219.5H1297.5Z M1302.5 216.5H1305.5V218.5H1302.5Z M1307.5 186.5H1310.5V195.5H1307.5Z M1326.5 148.5H1329.5V162.5H1326.5Z M1331.5 132.5H1334.5V148.5H1331.5Z M1346.5 127.5H1349.5V150.5H1346.5Z M1361.5 104.5H1364.5V120.5H1361.5Z M1366.5 86.5H1369.5V100.5H1366.5Z M1376.5 72.5H1379.5V82.5H1376.5Z M1385.5 66.5H1388.5V71.5H1385.5Z M1395.5 58.5H1398.5V68.5H1395.5Z M1405.5 62.5H1408.5V68.5H1405.5Z M1410.5 62.5H1413.5V65.5H1410.5Z M1415.5 66.5H1418.5V68.5H1415.5Z M1435.5 105.5H1438.5V110.5H1435.5Z M1439.5 96.5H1442.5V99.5H1439.5Z M1449.5 109.5H1452.5V115.5H1449.5Z M1454.5 99.5H1457.5V107.5H1454.5Z M1464.5 110.5H1467.5V114.5H1464.5Z M1469.5 103.5H1472.5V106.5H1469.5Z M1479.5 99.5H1482.5V107.5H1479.5Z M1489.5 86.5H1492.5V91.5H1489.5Z M1509.5 121.5H1512.5V125.5H1509.5Z M1513.5 120.5H1516.5V122.5H1513.5Z M1523.5 130.5H1526.5V135.5H1523.5Z M1528.5 129.5H1531.5V131.5H1528.5Z M1533.5 115.5H1536.5V122.5H1533.5Z M1542.5 127.5H1545.5V139.5H1542.5Z M1547.5 123.5H1550.5V130.5H1547.5Z M1572.5 129.5H1575.5V146.5H1572.5Z M1591.5 149.5H1594.5V167.5H1591.5Z M1601.5 145.5H1604.5V151.5H1601.5Z M1606.5 166.5H1609.5V174.5H1606.5Z M1611.5 143.5H1614.5V158.5H1611.5Z M1626.5 157.5H1629.5V162.5H1626.5Z M1635.5 151.5H1638.5V166.5H1635.5Z M1640.5 146.5H1643.5V155.5H1640.5Z M1645.5 139.5H1648.5V146.5H1645.5Z M1655.5 134.5H1658.5V144.5H1655.5Z M1660.5 131.5H1663.5V139.5H1660.5Z M1665.5 131.5H1668.5V140.5H1665.5Z M1670.5 128.5H1673.5V139.5H1670.5Z M1685.5 112.5H1688.5V134.5H1685.5Z M1690.5 98.5H1693.5V109.5H1690.5Z M1695.5 77.5H1698.5V93.5H1695.5Z M1729.5 150.5H1732.5V165.5H1729.5Z M1739.5 146.5H1742.5V170.5H1739.5Z M1744.5 136.5H1747.5V139.5H1744.5Z M1749.5 133.5H1752.5V137.5H1749.5Z M1758.5 122.5H1761.5V133.5H1758.5Z M1763.5 114.5H1766.5V119.5H1763.5Z M1773.5 110.5H1776.5V112.5H1773.5Z M1788.5 110.5H1791.5V115.5H1788.5Z M1792.5 97.5H1795.5V113.5H1792.5Z M1797.5 74.5H1800.5V97.5H1797.5Z" fill="#fff" stroke="#000" stroke-width="1"/>
<line x1="35.7" y1="635.3" x2="1855.0" y2="436.6" stroke="#3cb371" stroke-width="1"/>
<line x1="612.5" y1="511.4" x2="964.6" y2="249.2" stroke="#3cb371" stroke-width="1"/>
<line x1="92.2" y1="580.4" x2="441.0" y2="459.0" stroke="#6c9bd2" stroke-width="1" stroke-dasharray="4 4"/>
<line x1="117.3" y1="591.2" x2="980.3" y2="453.3" stroke="#4b0082" stroke-width="1"/>
<line x1="35.7" y1="600.1" x2="990.9" y2="475.0" stroke="#008000" stroke-width="3"/>
<line x1="35.5" y1="603.5" x2="1855.5" y2="603.5" stroke="#000" stroke-width="1"/>
<line x1="35.5" y1="580.5" x2="1855.5" y2="580.5" stroke="#000" stroke-width="1"/>
<line x1="87.0" y1="524.5" x2="1855.5" y2="524.5" stroke="#000" stroke-width="1"/>
<line x1="35.5" y1="554.5" x2="1855.5" y2="554.5" stroke="#008000" stroke-width="1"/>
<line x1="35.5" y1="453.5" x2="1855.5" y2="453.5" stroke="#008000" stroke-width="1" stroke-dasharray="4 3"/>
<line x1="411.0" y1="417.5" x2="829.0" y2="417.5" stroke="#ff0000" stroke-width="1"/>
<line x1="829.0" y1="416.5" x2="1341.6" y2="416.5" stroke="#ff0000" stroke-width="1"/>
<line x1="1341.6" y1="415.5" x2="1855.5" y2="415.5" stroke="#ff0000" stroke-width="1"/>
<line x1="691.0" y1="393.5" x2="990.0" y2="393.5" stroke="#000" stroke-width="1"/>
<line x1="782.7" y1="289.5" x2="965.0" y2="289.5" stroke="#000" stroke-width="1"/>
<line x1="851.7" y1="287.5" x2="1855.5" y2="287.5" stroke="#000" stroke-width="1"/>
<line x1="867.0" y1="255.5" x2="1123.0" y2="255.5" stroke="#000" stroke-width="1"/>
<line x1="1123.0" y1="254.5" x2="1220.0" y2="254.5" stroke="#000" stroke-width="1"/>
<line x1="1078.0" y1="212.5" x2="1260.0" y2="212.5" stroke="#000" stroke-width="1"/>
<line x1="1235.0" y1="164.5" x2="1855.5" y2="164.5" stroke="#000" stroke-width="1"/>
<line x1="1293.0" y1="119.5" x2="1555.0" y2="119.5" stroke="#000" stroke-width="1"/>
<line x1="1288.0" y1="74.5" x2="1855.5" y2="74.5" stroke="#000" stroke-width="1"/>
<line x1="47.9" y1="468.3" x2="327.0" y2="515.6" stroke="#000" stroke-width="1"/>
<line x1="1401.8" y1="49.0" x2="1683.0" y2="146.5" stroke="#000" stroke-width="1"/>
<line x1="1406.2" y1="53.3" x2="1822.8" y2="83.5" stroke="#000" stroke-width="1"/>
<line x1="1617.5" y1="182.5" x2="1745.0" y2="126.1" stroke="#000" stroke-width="1"/>
<line x1="1583.1" y1="178.5" x2="1752.6" y2="165.3" stroke="#000" stroke-width="1"/>
<line x1="945.2" y1="482.5" x2="1479.7" y2="100.6" stroke="#0000ff" stroke-width="1" stroke-dasharray="21.7 7.7"/>
<line x1="36.6" y1="520.7" x2="111.4" y2="481.1" stroke="#0000ff" stroke-width="1" stroke-dasharray="16 6.5"/>
<line x1="441.0" y1="405.1" x2="642.4" y2="505.0" stroke="#0000ff" stroke-width="1" stroke-dasharray="19.6 7.2"/>
<line x1="460.0" y1="493.5" x2="572.9" y2="493.5" stroke="#0000ff" stroke-width="1" stroke-dasharray="17.5 6.5"/>
<line x1="900.8" y1="242.7" x2="994.8" y2="398.4" stroke="#ff0000" stroke-width="1"/>
<line x1="900.8" y1="248.0" x2="1062.9" y2="299.7" stroke="#0000ff" stroke-width="1"/>
<ellipse cx="935.7" cy="314.1" rx="9.4" ry="7.6" fill="none" stroke="#008000"/>
<ellipse cx="967.8" cy="352.4" rx="22" ry="13.3" fill="none" stroke="#0000ff"/>
<ellipse cx="518.3" cy="545.8" rx="9.6" ry="8.5" fill="none" stroke="#008000"/>
<path d="M35.5 0V880M1855.5 0V880 M36 880.5H1856M36 891.5H1856 M33 637.5H35M1856 637.5H1858 M30 630.5H35M1856 630.5H1861 M33 623.5H35M1856 623.5H1858 M30 617.5H35M1856 617.5H1861 M33 610.5H35M1856 610.5H1858 M30 603.5H35M1856 603.5H1861 M33 596.5H35M1856 596.5H1858 M30 589.5H35M1856 589.5H1861 M33 582.5H35M1856 582.5H1858 M30 575.5H35M1856 575.5H1861 M33 568.5H35M1856 568.5H1858 M30 561.5H35M1856 561.5H1861 M33 554.5H35M1856 554.5H1858 M30 548.5H35M1856 548.5H1861 M33 541.5H35M1856 541.5H1858 M30 534.5H35M1856 534.5H1861 M33 527.5H35M1856 527.5H1858 M30 520.5H35M1856 520.5H1861 M33 513.5H35M1856 513.5H1858 M30 506.5H35M1856 506.5H1861 M33 499.5H35M1856 499.5H1858 M30 492.5H35M1856 492.5H1861 M33 485.5H35M1856 485.5H1858 M30 479.5H35M1856 479.5H1861 M33 472.5H35M1856 472.5H1858 M30 465.5H35M1856 465.5H1861 M33 458.5H35M1856 458.5H1858 M30 451.5H35M1856 451.5H1861 M33 444.5H35M1856 444.5H1858 M30 437.5H35M1856 437.5H1861 M33 430.5H35M1856 430.5H1858 M30 423.5H35M1856 423.5H1861 M33 416.5H35M1856 416.5H1858 M30 410.5H35M1856 410.5H1861 M33 403.5H35M1856 403.5H1858 M30 396.5H35M1856 396.5H1861 M33 389.5H35M1856 389.5H1858 M30 382.5H35M1856 382.5H1861 M33 375.5H35M1856 375.5H1858 M30 368.5H35M1856 368.5H1861 M33 361.5H35M1856 361.5H1858 M30 354.5H35M1856 354.5H1861 M33 347.5H35M1856 347.5H1858 M30 341.5H35M1856 341.5H1861 M33 334.5H35M1856 334.5H1858 M30 327.5H35M1856 327.5H1861 M33 320.5H35M1856 320.5H1858 M30 313.5H35M1856 313.5H1861 M33 306.5H35M1856 306.5H1858 M30 299.5H35M1856 299.5H1861 M33 292.5H35M1856 292.5H1858 M30 285.5H35M1856 285.5H1861 M33 278.5H35M1856 278.5H1858 M30 272.5H35M1856 272.5H1861 M33 265.5H35M1856 265.5H1858 M30 258.5H35M1856 258.5H1861 M33 251.5H35M1856 251.5H1858 M30 244.5H35M1856 244.5H1861 M33 237.5H35M1856 237.5H1858 M30 230.5H35M1856 230.5H1861 M33 223.5H35M1856 223.5H1858 M30 216.5H35M1856 216.5H1861 M33 209.5H35M1856 209.5H1858 M30 203.5H35M1856 203.5H1861 M33 196.5H35M1856 196.5H1858 M30 189.5H35M1856 189.5H1861 M33 182.5H35M1856 182.5H1858 M30 175.5H35M1856 175.5H1861 M33 168.5H35M1856 168.5H1858 M30 161.5H35M1856 161.5H1861 M33 154.5H35M1856 154.5H1858 M30 147.5H35M1856 147.5H1861 M33 140.5H35M1856 140.5H1858 M30 134.5H35M1856 134.5H1861 M33 127.5H35M1856 127.5H1858 M30 120.5H35M1856 120.5H1861 M33 113.5H35M1856 113.5H1858 M30 106.5H35M1856 106.5H1861 M33 99.5H35M1856 99.5H1858 M30 92.5H35M1856 92.5H1861 M33 85.5H35M1856 85.5H1858 M30 78.5H35M1856 78.5H1861 M33 71.5H35M1856 71.5H1858 M30 65.5H35M1856 65.5H1861 M33 58.5H35M1856 58.5H1858 M30 51.5H35M1856 51.5H1861 M33 44.5H35M1856 44.5H1858 M30 37.5H35M1856 37.5H1861 M33 30.5H35M1856 30.5H1858 M30 23.5H35M1856 23.5H1861 M33 16.5H35M1856 16.5H1858 M30 9.5H35M1856 9.5H1861 M33 2.5H35M1856 2.5H1858 M33 879.5H35 M33 876.5H35 M33 874.5H35 M33 872.5H35 M31 869.5H35 M33 867.5H35 M33 865.5H35 M33 862.5H35 M33 860.5H35 M31 858.5H35 M33 855.5H35 M33 853.5H35 M33 851.5H35 M33 848.5H35 M31 846.5H35 M33 844.5H35 M33 841.5H35 M33 839.5H35 M33 837.5H35 M31 834.5H35 M33 832.5H35 M33 830.5H35 M33 827.5H35 M33 825.5H35 M31 823.5H35 M33 820.5H35 M33 818.5H35 M33 816.5H35 M33 813.5H35 M31 811.5H35 M33 809.5H35 M33 807.5H35 M33 804.5H35 M33 802.5H35 M31 800.5H35 M33 797.5H35 M33 795.5H35 M33 793.5H35 M33 790.5H35 M31 788.5H35 M33 786.5H35 M33 783.5H35 M33 781.5H35 M33 779.5H35 M31 776.5H35 M33 774.5H35 M33 772.5H35 M33 769.5H35 M33 767.5H35 M31 765.5H35 M33 762.5H35 M33 760.5H35 M33 758.5H35 M33 755.5H35 M31 753.5H35 M33 751.5H35 M33 748.5H35 M33 746.5H35 M33 744.5H35 M31 741.5H35 M33 739.5H35 M33 737.5H35 M33 734.5H35 M33 732.5H35 M31 730.5H35 M33 727.5H35 M33 725.5H35 M33 723.5H35 M33 720.5H35 M31 718.5H35 M33 716.5H35 M33 713.5H35 M33 711.5H35 M33 709.5H35 M31 706.5H35 M33 704.5H35 M33 702.5H35 M33 699.5H35 M33 697.5H35 M31 695.5H35 M33 692.5H35 M33 690.5H35 M33 688.5H35 M33 685.5H35 M31 683.5H35 M33 681.5H35 M33 678.5H35 M33 676.5H35 M33 674.5H35 M31 671.5H35 M33 669.5H35 M33 667.5H35 M33 664.5H35 M33 662.5H35 M31 660.5H35 M33 657.5H35 M33 655.5H35 M33 653.5H35 M33 650.5H35 M31 648.5H35 M33 646.5H35 M33 643.5H35 M1856 872.5H1858 M1856 865.5H1858 M1856 857.5H1858 M1856 849.5H1858 M1856 841.5H1861 M1856 834.5H1858 M1856 826.5H1858 M1856 818.5H1858 M1856 810.5H1858 M1856 803.5H1861 M1856 795.5H1858 M1856 787.5H1858 M1856 779.5H1858 M1856 772.5H1858 M1856 764.5H1861 M1856 756.5H1858 M1856 748.5H1858 M1856 741.5H1858 M1856 733.5H1858 M1856 725.5H1861 M1856 717.5H1858 M1856 710.5H1858 M1856 702.5H1858 M1856 694.5H1858 M1856 687.5H1861 M1856 679.5H1858 M1856 671.5H1858 M1856 663.5H1858 M1856 656.5H1858 M1856 648.5H1861 M43.5 880V892 M67.5 880V892 M92.5 880V892 M117.5 880V892 M141.5 880V892 M161.5 880V892 M185.5 880V892 M210.5 880V892 M234.5 880V892 M258.5 880V892 M283.5 880V892 M308.5 880V892 M332.5 880V892 M357.5 880V892 M381.5 880V892 M406.5 880V892 M431.5 880V892 M455.5 880V892 M480.5 880V892 M504.5 880V892 M528.5 880V892 M553.5 880V892 M577.5 880V892 M602.5 880V892 M612.5 880V892 M626.5 880V892 M651.5 880V892 M676.5 880V892 M700.5 880V892 M725.5 880V892 M749.5 880V892 M773.5 880V892 M798.5 880V892 M822.5 880V892 M847.5 880V892 M872.5 880V892 M896.5 880V892 M921.5 880V892 M945.5 880V892 M970.5 880V892 M990.5 880V892 M1009.5 880V892 M1028.5 880V892 M1053.5 880V892 M1077.5 880V892 M1102.5 880V892 M1127.5 880V892 M1151.5 880V892 M1176.5 880V892 M1200.5 880V892 M1225.5 880V892 M1249.5 880V892 M1273.5 880V892 M1298.5 880V892 M1322.5 880V892 M1347.5 880V892 M1372.5 880V892 M1391.5 880V892 M1416.5 880V892 M1440.5 880V892 M1465.5 880V892 M1490.5 880V892 M1514.5 880V892 M1538.5 880V892 M1563.5 880V892 M1587.5 880V892 M1612.5 880V892 M1636.5 880V892 M1661.5 880V892 M1686.5 880V892 M1710.5 880V892 M1735.5 880V892 M1759.5 880V892 M1784.5 880V892 M1808.5 880V892 M1832.5 880V892 M107.5 880V902 M210.5 880V902 M313.5 880V902 M426.5 880V902 M528.5 880V902 M617.5 880V902 M725.5 880V902 M822.5 880V902 M926.5 880V902 M1024.5 880V902 M1127.5 880V902 M1230.5 880V902 M1342.5 880V902 M1440.5 880V902 M1548.5 880V902 M1661.5 880V902 M1759.5 880V902" stroke="#000" stroke-width="1" fill="none"/>
<g font-family="Liberation Sans, Arial, sans-serif" font-size="8.5" letter-spacing="0.15" fill="#262626" stroke="#262626" stroke-width="0.15"><text x="26.4" y="634.0" text-anchor="end">28</text><text x="1887.5" y="634.0" text-anchor="end">28</text><text x="26.4" y="620.0" text-anchor="end">29</text><text x="1887.5" y="620.0" text-anchor="end">29</text><text x="26.4" y="606.0" text-anchor="end">30</text><text x="1887.5" y="606.0" text-anchor="end">30</text><text x="26.4" y="593.0" text-anchor="end">31</text><text x="1887.5" y="593.0" text-anchor="end">31</text><text x="26.4" y="579.0" text-anchor="end">32</text><text x="1887.5" y="579.0" text-anchor="end">32</text><text x="26.4" y="565.0" text-anchor="end">33</text><text x="1887.5" y="565.0" text-anchor="end">33</text><text x="26.4" y="551.0" text-anchor="end">34</text><text x="1887.5" y="551.0" text-anchor="end">34</text><text x="26.4" y="537.0" text-anchor="end">35</text><text x="1887.5" y="537.0" text-anchor="end">35</text><text x="26.4" y="524.0" text-anchor="end">36</text><text x="1887.5" y="524.0" text-anchor="end">36</text><text x="26.4" y="510.0" text-anchor="end">37</text><text x="1887.5" y="510.0" text-anchor="end">37</text><text x="26.4" y="496.0" text-anchor="end">38</text><text x="1887.5" y="496.0" text-anchor="end">38</text><text x="26.4" y="482.0" text-anchor="end">39</text><text x="1887.5" y="482.0" text-anchor="end">39</text><text x="26.4" y="468.0" text-anchor="end">40</text><text x="1887.5" y="468.0" text-anchor="end">40</text><text x="26.4" y="455.0" text-anchor="end">41</text><text x="1887.5" y="455.0" text-anchor="end">41</text><text x="26.4" y="441.0" text-anchor="end">42</text><text x="1887.5" y="441.0" text-anchor="end">42</text><text x="26.4" y="427.0" text-anchor="end">43</text><text x="1887.5" y="427.0" text-anchor="end">43</text><text x="26.4" y="413.0" text-anchor="end">44</text><text x="1887.5" y="413.0" text-anchor="end">44</text><text x="26.4" y="399.0" text-anchor="end">45</text><text x="1887.5" y="399.0" text-anchor="end">45</text><text x="26.4" y="386.0" text-anchor="end">46</text><text x="1887.5" y="386.0" text-anchor="end">46</text><text x="26.4" y="372.0" text-anchor="end">47</text><text x="1887.5" y="372.0" text-anchor="end">47</text><text x="26.4" y="358.0" text-anchor="end">48</text><text x="1887.5" y="358.0" text-anchor="end">48</text><text x="26.4" y="344.0" text-anchor="end">49</text><text x="1887.5" y="344.0" text-anchor="end">49</text><text x="26.4" y="330.0" text-anchor="end">50</text><text x="1887.5" y="330.0" text-anchor="end">50</text><text x="26.4" y="317.0" text-anchor="end">51</text><text x="1887.5" y="317.0" text-anchor="end">51</text><text x="26.4" y="303.0" text-anchor="end">52</text><text x="1887.5" y="303.0" text-anchor="end">52</text><text x="26.4" y="289.0" text-anchor="end">53</text><text x="1887.5" y="289.0" text-anchor="end">53</text><text x="26.4" y="275.0" text-anchor="end">54</text><text x="1887.5" y="275.0" text-anchor="end">54</text><text x="26.4" y="261.0" text-anchor="end">55</text><text x="1887.5" y="261.0" text-anchor="end">55</text><text x="26.4" y="248.0" text-anchor="end">56</text><text x="1887.5" y="248.0" text-anchor="end">56</text><text x="26.4" y="234.0" text-anchor="end">57</text><text x="1887.5" y="234.0" text-anchor="end">57</text><text x="26.4" y="220.0" text-anchor="end">58</text><text x="1887.5" y="220.0" text-anchor="end">58</text><text x="26.4" y="206.0" text-anchor="end">59</text><text x="1887.5" y="206.0" text-anchor="end">59</text><text x="26.4" y="192.0" text-anchor="end">60</text><text x="1887.5" y="192.0" text-anchor="end">60</text><text x="26.4" y="179.0" text-anchor="end">61</text><text x="1887.5" y="179.0" text-anchor="end">61</text><text x="26.4" y="165.0" text-anchor="end">62</text><text x="1887.5" y="165.0" text-anchor="end">62</text><text x="26.4" y="151.0" text-anchor="end">63</text><text x="1887.5" y="151.0" text-anchor="end">63</text><text x="26.4" y="137.0" text-anchor="end">64</text><text x="1887.5" y="137.0" text-anchor="end">64</text><text x="26.4" y="123.0" text-anchor="end">65</text><text x="1887.5" y="123.0" text-anchor="end">65</text><text x="26.4" y="110.0" text-anchor="end">66</text><text x="1887.5" y="110.0" text-anchor="end">66</text><text x="26.4" y="96.0" text-anchor="end">67</text><text x="1887.5" y="96.0" text-anchor="end">67</text><text x="26.4" y="82.0" text-anchor="end">68</text><text x="1887.5" y="82.0" text-anchor="end">68</text><text x="26.4" y="68.0" text-anchor="end">69</text><text x="1887.5" y="68.0" text-anchor="end">69</text><text x="26.4" y="54.0" text-anchor="end">70</text><text x="1887.5" y="54.0" text-anchor="end">70</text><text x="26.4" y="41.0" text-anchor="end">71</text><text x="1887.5" y="41.0" text-anchor="end">71</text><text x="26.4" y="27.0" text-anchor="end">72</text><text x="1887.5" y="27.0" text-anchor="end">72</text><text x="26.4" y="13.0" text-anchor="end">73</text><text x="1887.5" y="13.0" text-anchor="end">73</text><text x="26.4" y="873" text-anchor="end">5</text><text x="26.4" y="862" text-anchor="end">10</text><text x="26.4" y="850" text-anchor="end">15</text><text x="26.4" y="838" text-anchor="end">20</text><text x="26.4" y="827" text-anchor="end">25</text><text x="26.4" y="815" text-anchor="end">30</text><text x="26.4" y="804" text-anchor="end">35</text><text x="26.4" y="792" text-anchor="end">40</text><text x="26.4" y="780" text-anchor="end">45</text><text x="26.4" y="769" text-anchor="end">50</text><text x="26.4" y="757" text-anchor="end">55</text><text x="26.4" y="745" text-anchor="end">60</text><text x="26.4" y="734" text-anchor="end">65</text><text x="26.4" y="722" text-anchor="end">70</text><text x="26.4" y="710" text-anchor="end">75</text><text x="26.4" y="699" text-anchor="end">80</text><text x="26.4" y="687" text-anchor="end">85</text><text x="26.4" y="675" text-anchor="end">90</text><text x="26.4" y="664" text-anchor="end">95</text><text x="26.4" y="652" text-anchor="end">100</text><text x="1887.5" y="845" text-anchor="end">5000</text><text x="1887.5" y="807" text-anchor="end">10000</text><text x="1887.5" y="768" text-anchor="end">15000</text><text x="1887.5" y="729" text-anchor="end">20000</text><text x="1887.5" y="691" text-anchor="end">25000</text><text x="44.5" y="889">15</text><text x="68.5" y="889">22</text><text x="93.5" y="889">29</text><text x="118.5" y="889">5</text><text x="142.5" y="889">12</text><text x="162.5" y="889">19</text><text x="186.5" y="889">26</text><text x="211.5" y="889">2</text><text x="235.5" y="889">9</text><text x="259.5" y="889">16</text><text x="284.5" y="889">23</text><text x="309.5" y="889">30</text><text x="333.5" y="889">7</text><text x="358.5" y="889">14</text><text x="382.5" y="889">21</text><text x="407.5" y="889">28</text><text x="432.5" y="889">4</text><text x="456.5" y="889">11</text><text x="481.5" y="889">18</text><text x="505.5" y="889">25</text><text x="529.5" y="889">2</text><text x="554.5" y="889">9</text><text x="578.5" y="889">16</text><text x="603.5" y="889">23</text><text x="627.5" y="889">6</text><text x="652.5" y="889">13</text><text x="677.5" y="889">20</text><text x="701.5" y="889">27</text><text x="726.5" y="889">3</text><text x="750.5" y="889">10</text><text x="774.5" y="889">17</text><text x="799.5" y="889">24</text><text x="823.5" y="889">3</text><text x="848.5" y="889">10</text><text x="873.5" y="889">17</text><text x="897.5" y="889">24</text><text x="922.5" y="889">31</text><text x="946.5" y="889">7</text><text x="971.5" y="889">14</text><text x="991.5" y="889">22</text><text x="1010.5" y="889">28</text><text x="1029.5" y="889">5</text><text x="1054.5" y="889">12</text><text x="1078.5" y="889">19</text><text x="1103.5" y="889">26</text><text x="1128.5" y="889">2</text><text x="1152.5" y="889">9</text><text x="1177.5" y="889">16</text><text x="1201.5" y="889">23</text><text x="1226.5" y="889">30</text><text x="1250.5" y="889">7</text><text x="1274.5" y="889">14</text><text x="1299.5" y="889">21</text><text x="1323.5" y="889">28</text><text x="1348.5" y="889">4</text><text x="1373.5" y="889">11</text><text x="1392.5" y="889">18</text><text x="1417.5" y="889">25</text><text x="1441.5" y="889">1</text><text x="1466.5" y="889">8</text><text x="1491.5" y="889">15</text><text x="1515.5" y="889">22</text><text x="1539.5" y="889">29</text><text x="1564.5" y="889">6</text><text x="1588.5" y="889">13</text><text x="1613.5" y="889">20</text><text x="1637.5" y="889">27</text><text x="1662.5" y="889">3</text><text x="1687.5" y="889">10</text><text x="1711.5" y="889">17</text><text x="1736.5" y="889">24</text><text x="1760.5" y="889">1</text><text x="1785.5" y="889">8</text><text x="1809.5" y="889">15</text><text x="1833.5" y="889">22</text><text x="108.2" y="899.5">August</text><text x="211.2" y="899.5">September</text><text x="314.2" y="899.5">October</text><text x="427.2" y="899.5">November</text><text x="529.2" y="899.5">December</text><text x="618.2" y="899.5">2025</text><text x="726.2" y="899.5">February</text><text x="823.2" y="899.5">March</text><text x="927.2" y="899.5">April</text><text x="1025.2" y="899.5">May</text><text x="1128.2" y="899.5">June</text><text x="1231.2" y="899.5">July</text><text x="1343.2" y="899.5">August</text><text x="1441.2" y="899.5">September</text><text x="1549.2" y="899.5">October</text><text x="1662.2" y="899.5">November</text><text x="1760.2" y="899.5">December</text></g>
<path d="M1856 872.5H1877M1857.5 872V880M1876.5 872V880" stroke="#000" fill="none"/>
<text x="1858.3" y="878.2" font-family="Liberation Sans, Arial, sans-serif" font-size="5.6" fill="#777" textLength="16.8" lengthAdjust="spacingAndGlyphs">x1000</text>
<rect x="818" y="3" width="254" height="10" fill="#fff"/>
<text x="820.3" y="11.5" font-family="Liberation Sans, Arial, sans-serif" font-size="8.8" fill="#484848" textLength="249.4" lengthAdjust="spacing">UNICREDITO IT (66.7600, 68.7100, 66.4700, 68.3600, +1.60000)</text>
<rect x="174.5" y="85.5" width="447" height="64" fill="#32cd32" stroke="#000"/>
<text x="177.3" y="96.6" font-family="Liberation Sans, Arial, sans-serif" font-size="12.5" font-weight="bold" fill="#000" stroke="#000" stroke-width="0.25" textLength="388.5" lengthAdjust="spacing">Strappo rialzista per Unicredit che fa quello che doveva fare.</text>
<text x="177.3" y="112.8" font-family="Liberation Sans, Arial, sans-serif" font-size="12.5" font-weight="bold" fill="#000" stroke="#000" stroke-width="0.25" textLength="399.5" lengthAdjust="spacing">White candle decisa con i volumi a sostegno e close sui 68,36.</text>
<text x="177.3" y="129.0" font-family="Liberation Sans, Arial, sans-serif" font-size="12.5" font-weight="bold" fill="#000" stroke="#000" stroke-width="0.25" textLength="441" lengthAdjust="spacing">Rompe il nostro primo Target e chiude il gap di agosto al tick (68,71).</text>
<text x="177.3" y="145.2" font-family="Liberation Sans, Arial, sans-serif" font-size="12.5" font-weight="bold" fill="#000" stroke="#000" stroke-width="0.25" textLength="256.5" lengthAdjust="spacing">Spazio per fare i massimi e consolidare.</text>
<rect x="791.5" y="616.5" width="206" height="12" fill="#fff" stroke="#000"/>
<text x="793" y="625" font-family="Liberation Sans, Arial, sans-serif" font-size="9" font-weight="bold" fill="#000" stroke="#000" stroke-width="0.55" textLength="202.5" lengthAdjust="spacingAndGlyphs">COPYRIGHT@ LABORSADEIPICCOLI.COM</text>
</svg></body></html>
